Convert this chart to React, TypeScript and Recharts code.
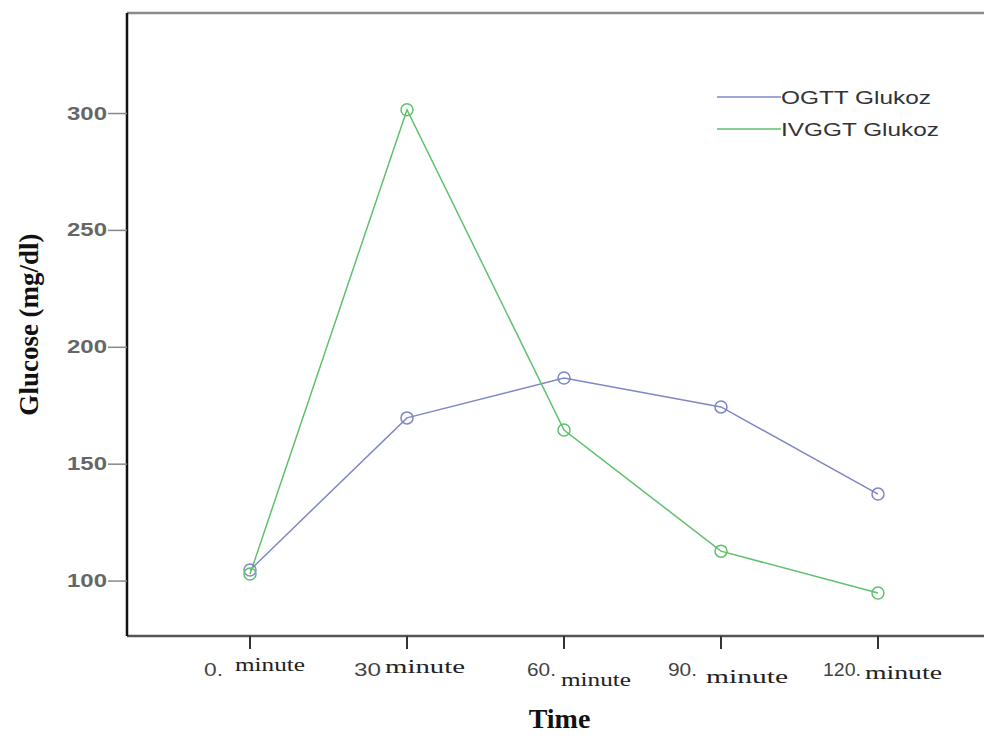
import React from 'react';
import { LineChart, Line, XAxis, YAxis, Legend, ReferenceLine } from 'recharts';

const CATEGORIES = ['0. minute', '30 minute', '60. minute', '90. minute', '120. minute'];
const OGTT = [104.7, 169.8, 186.9, 174.5, 137.2];
const IVGGT = [103, 301.6, 164.6, 112.8, 94.9];
const Y_TICKS = [100, 150, 200, 250, 300];
const Y_DOMAIN = [76.5, 343];
const SERIES_NAMES = ['OGTT Glukoz', 'IVGGT Glukoz'];

const BLUE = '#7f87c6';
const GREEN = '#5fc16d';

const data = CATEGORIES.map((c, i) => ({ time: c, ogtt: OGTT[i], ivggt: IVGGT[i] }));

// the source picture is stretched sideways, so text gets textLength to match
const TICK_LAYOUT = [
  { pre: -46, preW: 19, suf: -15, sufW: 70, sufDy: -2 },
  { pre: -53, preW: 27, suf: -22, sufW: 80, sufDy: 0 },
  { pre: -37, preW: 29, suf: -3, sufW: 70, sufDy: 13 },
  { pre: -53, preW: 29, suf: -15, sufW: 82, sufDy: 10 },
  { pre: -55, preW: 38, suf: -13, sufW: 77, sufDy: 6 },
];

const XTick = (props: any) => {
  const { x, y, payload, index } = props;
  const label: string = payload.value;
  const sp = label.indexOf(' ');
  const pre = label.slice(0, sp);
  const suf = label.slice(sp + 1);
  const l = TICK_LAYOUT[index] || TICK_LAYOUT[0];
  return (
    <g>
      <text x={x + l.pre} y={y + 25} fontFamily="Liberation Sans, Arial, sans-serif" fontSize={19}
        fill="#444" textLength={l.preW} lengthAdjust="spacingAndGlyphs">{pre}</text>
      <text x={x + l.suf} y={y + 22 + l.sufDy} fontFamily="Liberation Serif, Times New Roman, serif" fontSize={18}
        fill="#222" textLength={l.sufW} lengthAdjust="spacingAndGlyphs">{suf}</text>
    </g>
  );
};

const YTick = (props: any) => {
  const { x, y, payload } = props;
  return (
    <text x={x} y={y + 6} textAnchor="end" fontFamily="Liberation Sans, Arial, sans-serif" fontSize={18}
      fontWeight="bold" fill="#666" textLength={40} lengthAdjust="spacingAndGlyphs">{payload.value}</text>
  );
};

const LegendBox = (props: any) => {
  const items = [...(props.payload || [])].sort(
    (a: any, b: any) => SERIES_NAMES.indexOf(a.value) - SERIES_NAMES.indexOf(b.value)
  );
  return (
    <svg width={260} height={70}>
      {items.map((it: any, i: number) => (
        <g key={i}>
          <line x1={2} x2={66} y1={15 + i * 32} y2={15 + i * 32} stroke={it.color} strokeWidth={1.5} />
          <text x={66} y={22 + i * 32} fontFamily="Liberation Sans, Arial, sans-serif" fontSize={19}
            fill="#333" textLength={i === 0 ? 150 : 158} lengthAdjust="spacingAndGlyphs">{it.value}</text>
        </g>
      ))}
    </svg>
  );
};

export default function App() {
  return (
    <div style={{ margin: -8, width: 992, height: 740, background: '#fff' }}>
      <LineChart width={992} height={740} data={data} margin={{ top: 13, right: 0, bottom: 44, left: 0 }}>
        <XAxis dataKey="time" height={60} tick={<XTick />} tickSize={13} interval={0}
          tickLine={{ stroke: '#333', strokeWidth: 2 }} axisLine={{ stroke: '#555', strokeWidth: 2.5 }}
          padding={{ left: 123, right: 114 }}
          label={{ value: 'Time', position: 'bottom', offset: 12, fontFamily: 'Liberation Serif, serif',
            fontSize: 28, fontWeight: 'bold', fill: '#111' }} />
        <YAxis width={127} domain={Y_DOMAIN} ticks={Y_TICKS} type="number" tick={<YTick />}
          tickSize={19} tickMargin={1} tickLine={{ stroke: '#888', strokeWidth: 1.5 }}
          axisLine={{ stroke: '#111', strokeWidth: 2.5 }}
          label={{ value: 'Glucose (mg/dl)', angle: -90, position: 'center', dx: -35,
            fontFamily: 'Liberation Serif, serif', fontSize: 27, fontWeight: 'bold', fill: '#111' }} />
        <ReferenceLine y={Y_DOMAIN[1]} stroke="#8a8a8a" strokeWidth={2.5} />
        <Legend content={<LegendBox />} layout="vertical" verticalAlign="middle" align="center"
          wrapperStyle={{ top: 82, left: 715, width: 260 }} />
        <Line dataKey="ogtt" name={SERIES_NAMES[0]} stroke={BLUE} strokeWidth={1.5}
          dot={{ r: 6, fill: 'none', stroke: BLUE, strokeWidth: 1.5 }} isAnimationActive={false} />
        <Line dataKey="ivggt" name={SERIES_NAMES[1]} stroke={GREEN} strokeWidth={1.5}
          dot={{ r: 6, fill: 'none', stroke: GREEN, strokeWidth: 1.5 }} isAnimationActive={false} />
      </LineChart>
    </div>
  );
}
